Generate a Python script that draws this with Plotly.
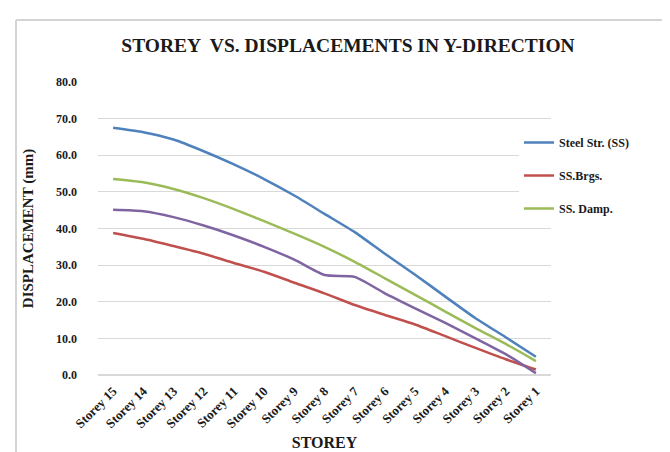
import plotly.graph_objects as go

storeys = ["Storey 15", "Storey 14", "Storey 13", "Storey 12", "Storey 11", "Storey 10",
           "Storey 9", "Storey 8", "Storey 7", "Storey 6", "Storey 5", "Storey 4",
           "Storey 3", "Storey 2", "Storey 1"]

steel_ss = [67.5, 66.3, 64.3, 61.1, 57.5, 53.5, 49.0, 44.0, 39.0, 33.1, 27.4, 21.4, 15.5, 10.3, 5.0]
ss_brgs = [38.8, 37.2, 35.2, 33.1, 30.6, 28.2, 25.2, 22.3, 19.1, 16.4, 13.8, 10.6, 7.4, 4.3, 1.5]
ss_damp = [53.5, 52.6, 50.8, 48.3, 45.3, 42.0, 38.6, 35.0, 30.9, 26.4, 21.9, 17.3, 12.8, 8.5, 3.8]
ss_other = [45.1, 44.7, 43.1, 40.8, 38.1, 35.0, 31.5, 27.3, 26.8, 22.3, 18.2, 14.2, 10.0, 5.7, 0.5]

series = [
    ("Steel Str. (SS)", steel_ss, "#4F81BD", True),
    ("SS.Brgs.", ss_brgs, "#C0504D", True),
    ("SS. Damp.", ss_damp, "#9BBB59", True),
    ("SS. Other", ss_other, "#8064A2", False),
]

SERIF = "Liberation Serif"

fig = go.Figure()
for i, (name, vals, color, show) in enumerate(series):
    fig.add_trace(go.Scatter(
        x=storeys, y=vals, mode="lines", name="<b>" + name + "</b>",
        line=dict(color=color, width=2.5, shape="spline", smoothing=0.6),
        showlegend=show, legendgroup="g%d" % i,
    ))

fig.update_layout(
    width=670, height=452,
    margin=dict(l=90, r=127, t=74, b=85),
    paper_bgcolor="white", plot_bgcolor="white",
    title=dict(text="<b>STOREY  VS. DISPLACEMENTS IN Y-DIRECTION</b>",
               font=dict(family=SERIF, size=19.5, color="#1a1a1a"),
               x=340 / 670, xanchor="center", y=1 - 37 / 452, yanchor="middle"),
    font=dict(family=SERIF, color="#1a1a1a"),
    legend=dict(x=(511 - 90) / 453, xanchor="left", y=(367 - 120) / 293, yanchor="top",
                bgcolor="white", font=dict(family=SERIF, size=12, color="#1a1a1a"),
                traceorder="grouped", tracegroupgap=14),
    xaxis=dict(
        range=[-0.5, 14.5], tickangle=-45, showgrid=False,
        tickfont=dict(family=SERIF, size=13, color="#1a1a1a"),
        title=dict(text="<b>STOREY</b>", font=dict(family=SERIF, size=16, color="#1a1a1a"), standoff=6),
        showline=False, ticks="", tickprefix="<b>", ticksuffix="</b>", ticklabelstandoff=5,
    ),
    yaxis=dict(
        range=[0, 80], dtick=10, tickformat=".1f",
        showgrid=True, gridcolor="#D9D9D9", gridwidth=1, zeroline=True, zerolinecolor="#D9D9D9",
        tickfont=dict(family=SERIF, size=12, color="#1a1a1a"),
        tickprefix="<b>", ticksuffix="</b>", ticklabelstandoff=20,
        title=dict(text="<b>DISPLACEMENT (mm)</b>", font=dict(family=SERIF, size=15, color="#1a1a1a"), standoff=18),
        showline=False, ticks="",
    ),
    shapes=[
        dict(type="line", xref="paper", yref="paper", x0=(8 - 90) / 453, x1=(8 - 90) / 453,
             y0=(367 - 12) / 293, y1=(367 - 452) / 293, line=dict(color="#D4D4D4", width=2)),
        dict(type="line", xref="paper", yref="paper", x0=(8 - 90) / 453, x1=(670 - 90) / 453,
             y0=(367 - 12) / 293, y1=(367 - 12) / 293, line=dict(color="#D4D4D4", width=2)),
    ],
)

fig.write_html("out.html")
